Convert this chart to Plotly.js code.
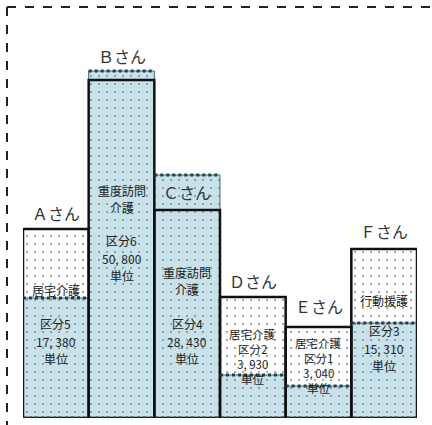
<!DOCTYPE html>
<html>
<head>
<meta charset="utf-8">
<script src="https://cdn.plot.ly/plotly-3.0.1.min.js"></script>
<style>html,body{margin:0;padding:0;background:#fff;}#chart{width:432px;height:425px;}</style>
</head>
<body>
<div id="chart"></div>
<script>
// ---- data ----
const people = ['Ａさん', 'Ｂさん', 'Ｃさん', 'Ｄさん', 'Ｅさん', 'Ｆさん'];
const serviceUse = [189, 338, 208, 121, 91, 169];      // black-framed box (service used)
const baseAmount = [120, 347, 243, 43, 32, 95];        // blue dotted area
const serviceNames = [['居宅介護'], ['重度訪問', '介護'], ['重度訪問', '介護'], ['居宅介護'], ['居宅介護'], ['行動援護']];
const classes = ['区分5', '区分6', '区分4', '区分2', '区分1', '区分3'];
const units = ['17, 380', '50, 800', '28, 430', '3, 930', '3, 040', '15, 310'];
const unitWord = '単位';

const xs = people.map((_, i) => i);
const FONT = '"Noto Sans CJK JP", "Noto Sans", sans-serif';

const traces = [];
// white dotted box
traces.push({
  type: 'bar', x: xs, y: serviceUse, width: 1,
  marker: { color: '#ffffff', line: { width: 0 },
    pattern: { shape: '.', size: 8, solidity: 0.05, fgcolor: '#8a8a8a', bgcolor: '#ffffff' } },
  hoverinfo: 'skip'
});
// blue dotted area
traces.push({
  type: 'bar', x: xs, y: baseAmount, width: 1,
  marker: { color: '#c9e1e8', line: { width: 1, color: '#3d6675' },
    pattern: { shape: '.', size: 8, solidity: 0.05, fgcolor: '#6f8f99', bgcolor: '#c9e1e8' } },
  hoverinfo: 'skip'
});
// black frame
traces.push({
  type: 'bar', x: xs, y: serviceUse, width: 1,
  marker: { color: 'rgba(0,0,0,0)', line: { width: 2.5, color: '#111' } },
  hoverinfo: 'skip'
});
// dotted top edge of blue area
const dx = [], dy = [];
baseAmount.forEach((v, i) => { dx.push(i - 0.5, i + 0.5, null); dy.push(v, v, null); });
traces.push({
  type: 'scatter', mode: 'lines', x: dx, y: dy,
  line: { color: '#1f3f4c', width: 3, dash: 'dot' }, hoverinfo: 'skip', connectgaps: false
});
// dotted bottom edge
traces.push({
  type: 'scatter', mode: 'lines', x: [-0.5, 5.5], y: [0, 0],
  line: { color: '#1f3f4c', width: 3, dash: 'dot' }, hoverinfo: 'skip'
});

// ---- annotations ----
const anns = [];
const nameY = [205, 362, 226, 137, 112, 187];
people.forEach((p, i) => {
  anns.push({ x: i, y: nameY[i], xref: 'x', yref: 'y', text: p, showarrow: false,
    font: { family: FONT, size: 16, color: '#333' } });
});
function block(i, lines, cy, gap, size) {
  const n = lines.length;
  lines.forEach((t, j) => {
    anns.push({ x: i, y: cy, text: t, showarrow: false,
      font: { family: FONT, size: size, color: '#222' },
      yshift: -(j - (n - 1) / 2) * gap });
  });
}
// two-block bars
const twoBlock = { 0: [128, 77], 1: [219, 160], 2: [137, 77], 5: [118, 70] };
Object.keys(twoBlock).forEach(k => {
  const i = +k;
  block(i, serviceNames[i], twoBlock[k][0], 17, 12);
  block(i, [classes[i], units[i], unitWord], twoBlock[k][1], 17.5, 12);
});
// single-block bars
const oneBlock = { 3: 62, 4: 53 };
Object.keys(oneBlock).forEach(k => {
  const i = +k;
  block(i, serviceNames[i].concat([classes[i], units[i], unitWord]), oneBlock[k], 15, 11.5);
});

const layout = {
  width: 432, height: 425,
  margin: { l: 23, r: 15, t: 0, b: 7 },
  paper_bgcolor: '#fff', plot_bgcolor: 'rgba(0,0,0,0)',
  barmode: 'overlay', bargap: 0, showlegend: false,
  xaxis: { range: [-0.5, 5.5], visible: false, fixedrange: true },
  yaxis: { range: [0, 418], visible: false, fixedrange: true },
  annotations: anns,
  shapes: [
    { type: 'line', xref: 'paper', yref: 'paper', x0: -0.0406, x1: 1.04, y0: 0.983, y1: 0.983,
      line: { color: '#222', width: 2, dash: 'dash' } },
    { type: 'line', xref: 'paper', yref: 'paper', x0: -0.0406, x1: -0.0406, y0: 0.983, y1: -0.02,
      line: { color: '#222', width: 2, dash: 'dash' } }
  ]
};

Plotly.newPlot('chart', traces, layout, { staticPlot: true, displayModeBar: false });
</script>
</body>
</html>
